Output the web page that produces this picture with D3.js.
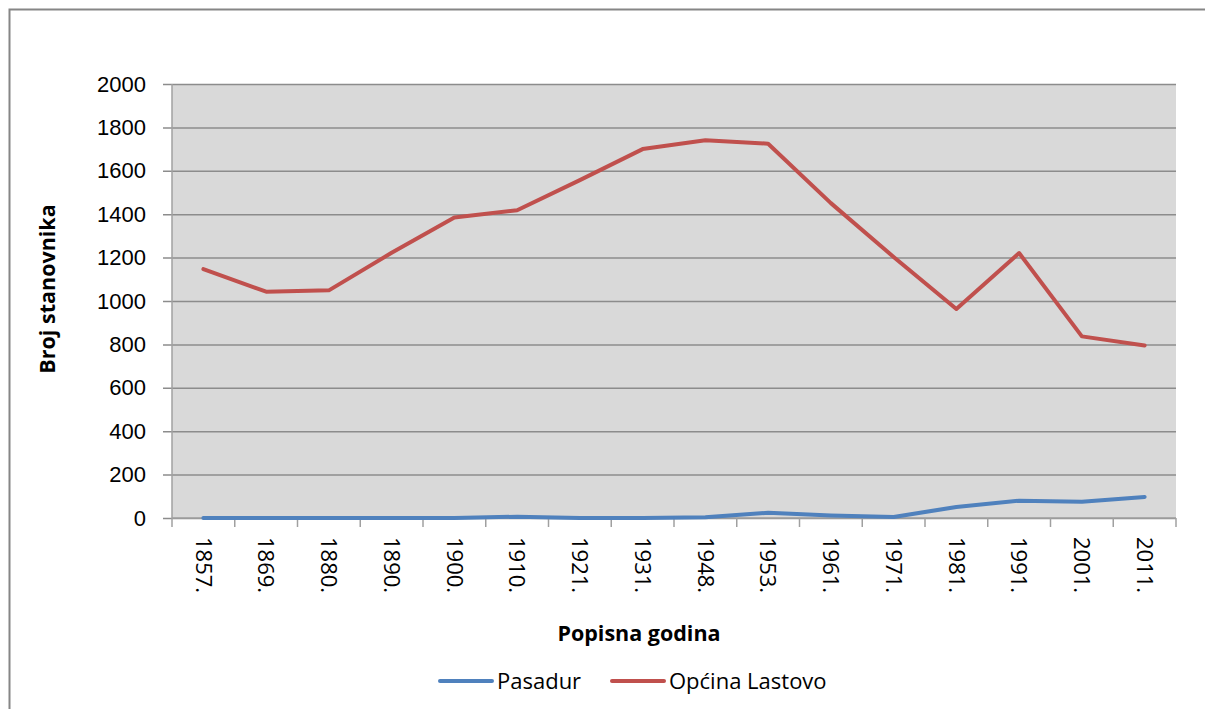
<!DOCTYPE html>
<html lang="hr">
<head>
<meta charset="UTF-8">
<script src="https://d3js.org/d3.v7.min.js"></script>
<style>
    body { margin: 0; background: #fff; }
    svg { display: block; font-family: 'Open Sans', sans-serif; }
    .tick text { fill: #000; font-size: 22px; }
</style>
</head>
<body>
<svg width="1205" height="709"></svg>
<script>
// Popisne godine i broj stanovnika
const years = ["1857.", "1869.", "1880.", "1890.", "1900.", "1910.", "1921.", "1931.",
               "1948.", "1953.", "1961.", "1971.", "1981.", "1991.", "2001.", "2011."];
const pasadur = [0, 0, 0, 0, 0, 6, 0, 0, 4, 24, 12, 5, 51, 80, 75, 97];
const lastovo = [1147, 1043, 1049, 1222, 1385, 1418, 1557, 1700, 1741, 1725, 1451, 1203, 963, 1221, 837, 795];
const yTicks = [0, 200, 400, 600, 800, 1000, 1200, 1400, 1600, 1800, 2000];

const series = [
    { name: "Pasadur", values: pasadur, color: "#4f81bd" },
    { name: "Općina Lastovo", values: lastovo, color: "#c0504d" }
];

const margin = { top: 84, right: 29, bottom: 191, left: 172 };
const width = 1205, height = 709;

const svg = d3.select("svg");

// outer chart border
svg.append("rect")
    .attr("x", 9.5).attr("y", 9.5)
    .attr("width", 1210).attr("height", 720)
    .attr("fill", "none")
    .attr("stroke", "#868686")
    .attr("stroke-width", 2);

const x = d3.scaleBand()
    .domain(years)
    .range([margin.left, width - margin.right]);

const y = d3.scaleLinear()
    .domain([0, 2000])
    .range([height - margin.bottom, margin.top]);

// plot background
svg.append("rect")
    .attr("x", margin.left).attr("y", margin.top)
    .attr("width", width - margin.right - margin.left)
    .attr("height", y(0) - margin.top)
    .attr("fill", "#d9d9d9");

// gridlines + y axis
const yAxis = svg.append("g")
    .attr("transform", `translate(${margin.left},0)`)
    .call(d3.axisLeft(y).tickValues(yTicks).tickFormat(d3.format("d")).tickSize(0).tickPadding(26));
yAxis.select(".domain").remove();
yAxis.selectAll(".tick line").remove();
yAxis.selectAll(".tick").append("line")
    .attr("x1", -9)
    .attr("x2", width - margin.right - margin.left)
    .attr("stroke", "#8c8c8c")
    .attr("stroke-width", 1.5);

svg.append("line")
    .attr("x1", margin.left).attr("x2", margin.left)
    .attr("y1", margin.top).attr("y2", y(0))
    .attr("stroke", "#a0a0a0").attr("stroke-width", 1.5);

// x axis: ticks at band boundaries
const xAxis = svg.append("g")
    .attr("transform", `translate(0,${y(0)})`);
xAxis.append("line")
    .attr("x1", margin.left).attr("x2", width - margin.right)
    .attr("stroke", "#a0a0a0").attr("stroke-width", 1.5);
const bounds = years.map(d => x(d)).concat([x(years[years.length - 1]) + x.bandwidth()]);
xAxis.selectAll(".bnd")
    .data(bounds)
    .enter().append("line")
    .attr("x1", d => d).attr("x2", d => d)
    .attr("y1", 0).attr("y2", 9)
    .attr("stroke", "#a0a0a0").attr("stroke-width", 1.5);
xAxis.selectAll(".lbl")
    .data(years)
    .enter().append("text")
    .attr("transform", d => `translate(${x(d) + x.bandwidth() / 2},19) rotate(90)`)
    .attr("dy", "0.35em")
    .attr("text-anchor", "start")
    .attr("font-size", 22)
    .attr("fill", "#000")
    .text(d => d);

// lines
const line = d3.line()
    .x((d, i) => x(years[i]) + x.bandwidth() / 2)
    .y(d => y(d));

svg.selectAll(".series")
    .data(series)
    .enter().append("path")
    .attr("d", d => line(d.values))
    .attr("fill", "none")
    .attr("stroke", d => d.color)
    .attr("stroke-width", 4)
    .attr("stroke-linejoin", "round")
    .attr("stroke-linecap", "round");

// axis titles
svg.append("text")
    .attr("x", 639).attr("y", 641)
    .attr("text-anchor", "middle")
    .attr("font-weight", "bold")
    .attr("font-size", 21.5)
    .text("Popisna godina");

svg.append("text")
    .attr("transform", "translate(55,289) rotate(-90)")
    .attr("text-anchor", "middle")
    .attr("font-weight", "bold")
    .attr("font-size", 21.5)
    .text("Broj stanovnika");

// legend
const legendPos = [440, 612];
const legend = svg.selectAll(".legend")
    .data(series)
    .enter().append("g")
    .attr("transform", (d, i) => `translate(${legendPos[i]},681)`);
legend.append("line")
    .attr("x1", 0).attr("x2", 52)
    .attr("stroke", d => d.color)
    .attr("stroke-width", 4)
    .attr("stroke-linecap", "round");
legend.append("text")
    .attr("x", 57)
    .attr("dy", "0.35em")
    .attr("font-size", 22)
    .text(d => d.name);
</script>
</body>
</html>
